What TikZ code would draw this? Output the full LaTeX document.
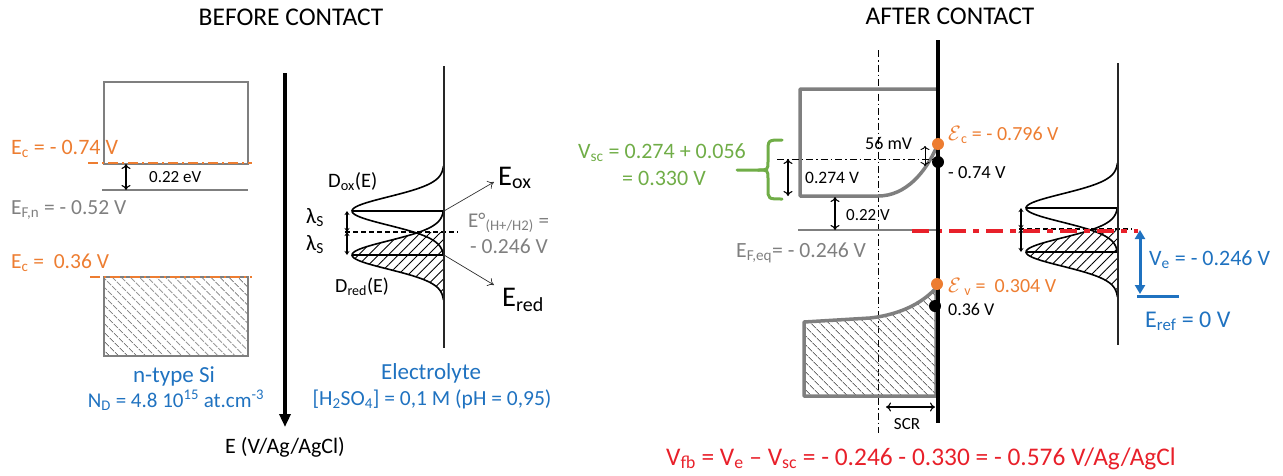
\documentclass[tikz,border=0pt]{standalone}
\usepackage{fontspec}
\setmainfont{Carlito}
\usetikzlibrary{arrows.meta,patterns.meta}
\definecolor{cor}{HTML}{ED7D31}
\definecolor{cgr}{HTML}{7F7F7F}
\definecolor{chs}{HTML}{6E6E6E}
\definecolor{cbl}{HTML}{1F72C0}
\definecolor{cgn}{HTML}{70AD47}
\definecolor{crd}{HTML}{E8202A}
\newcommand\drawelyte{%
  \fill[pattern={Lines[angle=45,distance=7pt,line width=0.9pt]}]
    plot[domain=232:300,samples=50] ({444-92*exp(-((\x-255)/20)^2)},\x) -- (444,300) -- (444,232) -- cycle;
  \draw[line width=1.6pt] plot[domain=166:254,samples=70,smooth] ({444-92*exp(-((\x-211)/20)^2)},\x);
  \draw[line width=1.6pt] plot[domain=212:300,samples=70,smooth] ({444-92*exp(-((\x-255)/20)^2)},\x);
  \draw[line width=1.3pt] (352,211) -- (444,211);
  \draw[line width=1.3pt] (352,255) -- (444,255);
  \draw[line width=1.3pt, dash pattern=on 5pt off 3pt] (345,232) -- (458,232);
  \draw[line width=1.6pt, black!85] (444,66) -- (444,348);
  \draw[sdbl] (347,211) -- (347,232);
  \draw[sdbl] (347,232) -- (347,255);
}
\begin{document}
\begin{tikzpicture}[x=1pt,y=-1pt,
  lbl/.style={inner sep=0pt, anchor=base west},
  lblc/.style={inner sep=0pt, anchor=base},
  fa/.style={font=\fontsize{#1}{#1}\selectfont},
  dbl/.style={{To[length=5pt,width=9pt]}-{To[length=5pt,width=9pt]}, line width=1.1pt},
  sdbl/.style={{Stealth[length=4pt,width=5pt]}-{Stealth[length=4pt,width=5pt]}, line width=1.2pt},
  odash/.style={cor, line width=1.6pt, dash pattern=on 10pt off 4pt on 2pt off 4pt},
  ddot/.style={line width=1pt, dash pattern=on 7pt off 3pt on 1.5pt off 3pt},
  thinarr/.style={-{To[length=6pt,width=9pt]}, line width=0.7pt, black!80},
  hatch/.style={pattern={Lines[angle=-45,distance=6.5pt,line width=1.1pt]}, pattern color=chs}
]
\useasboundingbox (0,0) rectangle (1283,475);

% ---------- titles
\node[lblc,fa=25.5] (t1) at (291,25) {BEFORE CONTACT};
\node[lblc,fa=25.5] (t2) at (950,24) {AFTER CONTACT};

% ---------- left semiconductor
\draw[cgr, line width=1.6pt] (104,82) rectangle (248,164);
\draw[odash] (88,163) -- (252,163);
\draw[cgr, line width=1.6pt] (102,190) -- (248,190);
\coordinate (g1) at (126,164); \coordinate (g2) at (126,190);
\draw[dbl] (g1) -- (g2);
\node[lbl,fa=17] (gap) at (149,182) {0.22 eV};
\node[lbl,fa=22,cor] (ec1) at (11,154) {E\textsubscript{c} = - 0.74 V};
\node[lbl,fa=21.5,cgr] (ef1) at (11,214) {E\textsubscript{F,n} = - 0.52 V};
\node[lbl,fa=21.5,cor] (ev1) at (11,268) {E\textsubscript{c} =\ \ 0.36 V};
\filldraw[hatch, draw=cgr, line width=1.6pt] (104,277) rectangle (248,356);
\draw[odash] (90,277) -- (252,277);
\node[lblc,fa=23,cbl] (nsi) at (174,382) {n-type Si};
\node[lblc,fa=21,cbl] (nd) at (176,407) {N\textsubscript{D} = 4.8 10\textsuperscript{15} at.cm\textsuperscript{-3}};

% ---------- energy axis
\coordinate (ax1) at (285,73); \coordinate (ax2) at (285,427);
\draw[line width=3.5pt, -{Triangle[length=13pt,width=11pt]}] (ax1) -- (ax2);
\node[lblc,fa=22] (axl) at (285,453) {E (V/Ag/AgCl)};

% ---------- left electrolyte
\drawelyte
\node[lbl,fa=22] (l1) at (306,223) {λ\textsubscript{S}};
\node[lbl,fa=22] (l2) at (306,250) {λ\textsubscript{S}};
\node[lbl,fa=20.5] (dox) at (328,187) {D\textsubscript{ox}(E)};
\node[lbl,fa=20] (dred) at (335,292) {D\textsubscript{red}(E)};
\node[lbl,fa=28.5] (eox) at (498,185) {E\textsubscript{ox}};
\node[lbl,fa=28.5] (ered) at (502,306) {E\textsubscript{red}};
\coordinate (o1) at (444,211); \coordinate (o2) at (494,182);
\coordinate (r1) at (444,255); \coordinate (r2) at (494,285);
\draw[thinarr] (o1) -- (o2);
\draw[thinarr] (r1) -- (r2);
\node[lbl,fa=21,cgr] (e0) at (468,227) {E°\textsubscript{(H+/H2)} =};
\node[lbl,fa=21.5,cgr] (e0v) at (470,253) {- 0.246 V};
\node[lblc,fa=23,cbl] (ely) at (431,379) {Electrolyte};
\node[lblc,fa=21.5,cbl] (h2) at (432,405) {[H\textsubscript{2}SO\textsubscript{4}] = 0,1 M (pH = 0,95)};

% ---------- right: after contact
\draw[ddot] (878,50) -- (878,433);
\draw[cgr, line width=3.5pt, line join=round] (937,89) -- (800,89) -- (800,196) -- (878,196)
   .. controls (906,196) and (926,172) .. (937,146);
\filldraw[hatch, draw=cgr, line width=3.5pt, line join=round] (936,288) .. controls (925,300) and (905,314) .. (870,318)
   -- (804,322) -- (804,396) -- (936,396) -- cycle;
\draw[ddot] (777,159) -- (933,159);
\coordinate (a1) at (788,159); \coordinate (a2) at (788,196);
\draw[dbl] (a1) -- (a2);
\node[lbl,fa=17.5] (v274) at (805,183) {0.274 V};
\node[lbl,fa=18] (mv) at (865,149) {56 mV};
\coordinate (m1) at (925,146); \coordinate (m2) at (925,166);
\draw[{To[length=4pt,width=9pt]}-{To[length=4pt,width=9pt]}, line width=0.9pt] (m1) -- (m2);
\draw[cgr, line width=2pt] (798,230) -- (938,230);
\coordinate (b1) at (835,197); \coordinate (b2) at (835,230);
\draw[dbl] (b1) -- (b2);
\node[lbl,fa=17] (v22) at (846,220) {0.22 V};
\node[lbl,fa=21.7,cgr] (efq) at (736,257) {E\textsubscript{F,eq}= - 0.246 V};

% right electrolyte
\begin{scope}[shift={(674,-3)}]
\drawelyte
\end{scope}
\draw[crd, line width=4pt, dash pattern=on 17pt off 7pt on 6pt off 7pt] (912,231) -- (1138,231);

% interface
\draw[line width=3.5pt] (938,40) -- (938,423);
\fill[cor] (938,144) circle (6);
\fill[black] (938,162) circle (6);
\fill[cor] (937,284) circle (6);
\fill[black] (935,306) circle (6);
\node[lbl,fa=20,cor] (ecc) at (948,140) {$\mathcal{E}$\textsubscript{c} = - 0.796 V};
\node[lbl,fa=18.5] (ec074) at (948,178) {- 0.74 V};
\node[lbl,fa=20,cor] (evv) at (948,292) {$\mathcal{E}$\,\textsubscript{v} =\ \ 0.304 V};
\node[lbl,fa=18] (ev036) at (948,315) {0.36 V};
\coordinate (s1) at (886,407); \coordinate (s2) at (935,407);
\draw[dbl] (s1) -- (s2);
\node[lblc,fa=17] (scr) at (907,429) {SCR};

% green brace
\draw[cgn, line width=3pt, line cap=round] (782,140) .. controls (768,140) .. (768,152) -- (768,161)
   .. controls (768,170) .. (758,170) -- (737,170);
\draw[cgn, line width=3pt, line cap=round] (758,170) .. controls (768,170) .. (768,179) -- (768,188)
   .. controls (768,199) .. (782,199);
\node[lbl,fa=22,cgn] (vsc1) at (578,158) {V\textsubscript{sc} = 0.274 + 0.056};
\node[lbl,fa=22,cgn] (vsc2) at (622,185) {= 0.330 V};

% blue reference
\coordinate (q1) at (1140,230); \coordinate (q2) at (1140,294);
\draw[cbl, line width=3pt, {Triangle[length=9pt,width=10pt]}-{Triangle[length=9pt,width=10pt]}] (q1) -- (q2);
\draw[cbl, line width=3pt] (1137,296) -- (1179,296);
\node[lbl,fa=22,cbl] (ve) at (1149,265) {V\textsubscript{e} = - 0.246 V};
\node[lbl,fa=24,cbl] (eref) at (1145,327) {E\textsubscript{ref} = 0 V};

% bottom formula
\node[lbl,fa=25.4,crd] (vfb) at (666,465) {V\textsubscript{fb} = V\textsubscript{e} \textendash{} V\textsubscript{sc} = - 0.246 - 0.330 = - 0.576 V/Ag/AgCl};
\end{tikzpicture}
\end{document}
